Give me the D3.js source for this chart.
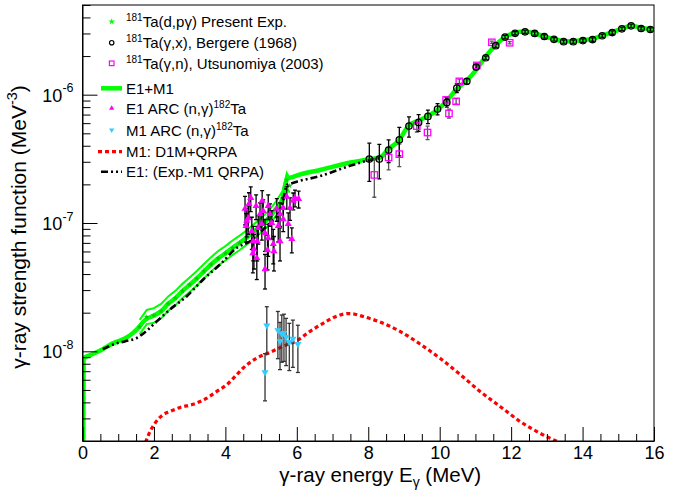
<!DOCTYPE html>
<html><head><meta charset="utf-8">
<script src="https://cdn.jsdelivr.net/npm/d3@7"></script>
<style>body{margin:0;background:#fff} svg{display:block} text{font-family:"Liberation Sans",Arial,Helvetica,sans-serif;fill:#000}</style>
</head><body><svg id="c" width="687" height="490"></svg>
<script>
// ---------- data ----------
const xTicks = [0,2,4,6,8,10,12,14,16];
const yTicks = [1e-8,1e-7,1e-6];
const yTickExp = ["-8","-7","-6"];

// E1+M1 total (thick green)
const e1m1E = [0.02,0.03,0.07,0.2,0.57,0.85,1.2,1.4,1.55,1.75,2.0,2.2,2.4,2.6,2.8,3.0,3.2,3.4,3.6,3.8,4.0,4.2,4.4,4.6,4.8,5.0,5.2,5.4,5.6,5.73,5.9,6.1,6.65,7.5,8.05,8.33,8.57,8.85,9.13,9.41,9.69,9.97,10.2,10.48,10.76,11.04,11.27,11.55,11.83,12.11,12.38,12.66,12.93,13.19,13.47,13.73,14.01,14.27,14.55,14.83,15.1,15.36,15.64,15.9,16.0];
const e1m1F = [1.9e-9,8.66e-9,8.98e-9,9.3e-9,1.04e-8,1.155e-8,1.265e-8,1.38e-8,1.51e-8,1.75e-8,1.9e-8,2.05e-8,2.35e-8,2.6e-8,2.95e-8,3.3e-8,3.7e-8,4.2e-8,4.75e-8,5.3e-8,5.8e-8,6.4e-8,7.0e-8,7.7e-8,8.6e-8,9.6e-8,1.08e-7,1.27e-7,1.55e-7,2.21e-7,2.29e-7,2.39e-7,2.59e-7,2.96e-7,3.15e-7,3.24e-7,3.77e-7,4.38e-7,5.73e-7,6.27e-7,6.86e-7,7.73e-7,8.98e-7,1.11e-6,1.29e-6,1.59e-6,1.95e-6,2.41e-6,2.81e-6,3.04e-6,3.11e-6,3.01e-6,2.85e-6,2.72e-6,2.61e-6,2.61e-6,2.67e-6,2.72e-6,2.89e-6,3.07e-6,3.26e-6,3.44e-6,3.32e-6,3.24e-6,3.2e-6];

// Present experiment (d,p gamma): centre, upper and lower band
const expE  = [1.6,1.8,2.0,2.2,2.4,2.6,2.8,3.0,3.2,3.4,3.6,3.8,4.0,4.2,4.4,4.6,4.8,5.0,5.2,5.4,5.6,5.72,5.8];
const expF  = [1.55e-8,1.85e-8,1.9e-8,2.05e-8,2.35e-8,2.6e-8,2.95e-8,3.3e-8,3.7e-8,4.2e-8,4.75e-8,5.3e-8,5.8e-8,6.4e-8,7.0e-8,7.7e-8,8.6e-8,9.6e-8,1.08e-7,1.27e-7,1.55e-7,2.15e-7,1.95e-7];
const expHi = [1.76e-8,2.1e-8,2.17e-8,2.34e-8,2.68e-8,2.96e-8,3.36e-8,3.76e-8,4.22e-8,4.79e-8,5.42e-8,6.05e-8,6.6e-8,7.3e-8,7.98e-8,8.78e-8,9.8e-8,1.1e-7,1.23e-7,1.45e-7,1.77e-7,2.45e-7,2.22e-7];
const expLo = [1.36e-8,1.63e-8,1.67e-8,1.8e-8,2.07e-8,2.29e-8,2.6e-8,2.9e-8,3.26e-8,3.7e-8,4.18e-8,4.66e-8,5.1e-8,5.63e-8,6.16e-8,6.78e-8,7.57e-8,8.45e-8,9.5e-8,1.12e-7,1.36e-7,1.89e-7,1.72e-7];

// E1: Exp - M1 QRPA (black dash-dot)
const e1E = [0.57,0.86,1.2,1.52,1.8,2.08,2.45,2.92,3.38,3.85,4.32,4.69,5.0,5.25,5.5,5.6,5.72,5.86,6.0,6.65,7.49,8.05,8.33];
const e1F = [1.04e-8,1.13e-8,1.2e-8,1.27e-8,1.45e-8,1.71e-8,2.12e-8,2.69e-8,3.63e-8,4.75e-8,6.41e-8,7.2e-8,8.6e-8,1.0e-7,1.2e-7,1.42e-7,1.98e-7,2.04e-7,2.1e-7,2.32e-7,2.79e-7,3.1e-7,3.2e-7];

// M1: D1M+QRPA (red dotted)
const m1E = [1.765,1.89,2.03,2.22,2.45,2.73,3.10,3.48,3.76,4.04,4.32,4.50,4.88,5.25,5.62,6.00,6.37,6.75,7.12,7.45,7.91,8.33,8.89,9.45,10.01,10.57,11.13,11.69,12.25,12.82,13.35];
const m1F = [1.95e-9,2.37e-9,2.75e-9,3.15e-9,3.4e-9,3.65e-9,3.87e-9,4.31e-9,4.87e-9,5.5e-9,6.58e-9,7.41e-9,8.87e-9,9.82e-9,1.094e-8,1.21e-8,1.43e-8,1.66e-8,1.88e-8,1.97e-8,1.85e-8,1.69e-8,1.43e-8,1.14e-8,8.82e-9,6.61e-9,4.87e-9,3.72e-9,2.84e-9,2.29e-9,1.95e-9];

// E1 ARC (n,gamma) 182Ta
const arcE1E = [4.58,4.64,4.71,4.74,4.78,4.80,4.77,4.88,5.11,4.92,4.97,5.06,5.02,5.11,5.20,5.18,5.25,5.30,5.34,5.36,5.53,5.48,5.53,5.44,5.62,5.76,5.81,5.86,5.90,6.05,5.95,5.72,4.55,4.60,5.03,5.20,4.86,5.62,4.89,4.66];
const arcE1F = [9.48e-8,1.09e-7,1.57e-7,8.66e-8,7.23e-8,6.26e-8,5.83e-8,5.33e-8,4.37e-8,9.14e-8,1.175e-7,1.24e-7,9.82e-8,8.35e-8,7.63e-8,6.15e-8,1.175e-7,1.0e-7,6.86e-8,6.04e-8,7.23e-8,9.48e-8,1.175e-7,1.29e-7,1.31e-7,9.82e-8,1.31e-7,7.5e-8,1.49e-7,1.54e-7,1.57e-7,1.60e-7,1.29e-7,1.04e-7,1.49e-7,1.36e-7,1.36e-7,1.07e-7,7.23e-8,1.41e-7];
const arcE1Err = [0.25,0.25,0.22,0.28,0.3,0.3,0.3,0.32,0.3,0.25,0.22,0.22,0.25,0.28,0.28,0.3,0.2,0.25,0.3,0.3,0.3,0.25,0.22,0.2,0.2,0.22,0.2,0.22,0.15,0.15,0.15,0.2,0.25,0.25,0.2,0.22,0.22,0.2,0.3,0.22];

// M1 ARC (n,gamma) 182Ta
const arcM1E = [5.16,5.11,5.47,5.53,5.58,5.64,5.70,5.79,5.89,6.03];
const arcM1F = [1.59e-8,6.85e-9,1.46e-8,1.2e-8,1.37e-8,1.39e-8,1.29e-8,1.18e-8,1.25e-8,1.14e-8];
const arcM1Err = [0.4,0.4,0.4,0.4,0.4,0.4,0.4,0.4,0.4,0.4];

// 181Ta(gamma,x) Bergere (1968)
const bergE = [8.03,8.31,8.57,8.87,9.14,9.41,9.67,9.94,10.20,10.48,10.76,11.02,11.29,11.57,11.83,12.11,12.39,12.66,12.93,13.20,13.47,13.74,14.01,14.28,14.55,14.83,15.10,15.36,15.64,15.90];
const bergF = [3.15e-7,3.15e-7,3.70e-7,4.45e-7,5.69e-7,6.08e-7,6.77e-7,7.73e-7,8.71e-7,1.127e-6,1.27e-6,1.64e-6,1.94e-6,2.41e-6,2.81e-6,3.01e-6,3.09e-6,3.0e-6,2.84e-6,2.70e-6,2.59e-6,2.59e-6,2.64e-6,2.69e-6,2.88e-6,3.05e-6,3.26e-6,3.44e-6,3.28e-6,3.22e-6];
const bergErr = [0.33,0.3,0.2,0.25,0.18,0.15,0.12,0.1,0.08,0.08,0.05,0.04,0.03,0.03,0.03,0.03,0.03,0.03,0.03,0.03,0.03,0.03,0.03,0.03,0.03,0.03,0.03,0.03,0.03,0.03];

// 181Ta(gamma,n) Utsunomiya (2003)
const utsE = [8.17,8.57,8.87,9.36,9.66,10.18,10.26,10.46,10.55,11.04,11.46,11.96];
const utsF = [2.37e-7,3.24e-7,3.44e-7,5.69e-7,5.07e-7,9.1e-7,7.14e-7,8.87e-7,1.27e-6,1.69e-6,2.56e-6,2.54e-6];
const utsErr = [0.33,0.2,0.2,0.1,0.12,0.05,0.08,0.05,0.04,0.03,0.02,0.02];

// ---------- drawing ----------
const svg = d3.select("#c");
const L = 82.5, R = 654, T = 5, B = 441;
const x = d3.scaleLinear().domain([0,16]).range([L,R]);
const y = d3.scaleLog().domain([2e-9,5e-6]).range([B,T]);

svg.append("rect").attr("width",687).attr("height",490).attr("fill","#fff");
svg.append("clipPath").attr("id","clip").append("rect")
  .attr("x",L).attr("y",T).attr("width",R-L).attr("height",B-T);

const zip = (a,b,c) => a.map((v,i)=>({e:v,f:b[i],err:c?c[i]:0}));
const line = d3.line().x(d=>x(d.e)).y(d=>y(d.f));
const lineS = d3.line().x(d=>x(d.e)).y(d=>y(d.f)).curve(d3.curveMonotoneX);
const plot = svg.append("g").attr("clip-path","url(#clip)");

// experimental band (thin green outlines)
[expHi, expLo].forEach(arr=>{
  plot.append("path").datum(zip(expE,arr)).attr("d",line)
    .attr("fill","none").attr("stroke","#00ff00").attr("stroke-width",2);
});
// total E1+M1
plot.append("path").datum(zip(e1m1E,e1m1F)).attr("d",lineS)
  .attr("fill","none").attr("stroke","#00ff00").attr("stroke-width",4.5).attr("stroke-linejoin","round");
// exp markers
plot.selectAll(".exp").data(zip(expE,expF)).join("path")
  .attr("transform",d=>`translate(${x(d.e)},${y(d.f)})`)
  .attr("d",d3.symbol(d3.symbolStar,10)).attr("fill","#00cc00");
// E1 dash-dot
plot.append("path").datum(zip(e1E,e1F)).attr("d",lineS)
  .attr("fill","none").attr("stroke","#000").attr("stroke-width",2.6)
  .attr("stroke-dasharray","7,3,2,3,2,3");
// M1 dotted red
plot.append("path").datum(zip(m1E,m1F)).attr("d",lineS)
  .attr("fill","none").attr("stroke","#ff0000").attr("stroke-width",3.2)
  .attr("stroke-dasharray","4,3");

function errBars(data, color, cap){
  const g = plot.append("g").attr("stroke",color).attr("stroke-width",1.3);
  data.forEach(d=>{
    const y1 = y(d.f*(1+d.err)), y2 = y(d.f*(1-d.err)), xx = x(d.e);
    g.append("line").attr("x1",xx).attr("x2",xx).attr("y1",y1).attr("y2",y2);
    g.append("line").attr("x1",xx-cap).attr("x2",xx+cap).attr("y1",y1).attr("y2",y1);
    g.append("line").attr("x1",xx-cap).attr("x2",xx+cap).attr("y1",y2).attr("y2",y2);
  });
}
const arcE1 = zip(arcE1E,arcE1F,arcE1Err);
const arcM1 = zip(arcM1E,arcM1F,arcM1Err);
const berg = zip(bergE,bergF,bergErr);
const uts = zip(utsE,utsF,utsErr);
errBars(arcM1,"#333",2);
errBars(arcE1,"#000",2);
errBars(uts,"#555",2);
errBars(berg,"#000",2);

plot.selectAll(".m1").data(arcM1).join("path")
  .attr("transform",d=>`translate(${x(d.e)},${y(d.f)}) rotate(180)`)
  .attr("d",d3.symbol(d3.symbolTriangle,22)).attr("fill","#33ccff");
plot.selectAll(".e1").data(arcE1).join("path")
  .attr("transform",d=>`translate(${x(d.e)},${y(d.f)})`)
  .attr("d",d3.symbol(d3.symbolTriangle,22)).attr("fill","#ff00ff");
plot.selectAll(".ut").data(uts).join("rect")
  .attr("x",d=>x(d.e)-3.2).attr("y",d=>y(d.f)-3.2).attr("width",6.4).attr("height",6.4)
  .attr("fill","none").attr("stroke","#ff00ff").attr("stroke-width",1.3);
plot.selectAll(".bg").data(berg).join("circle")
  .attr("cx",d=>x(d.e)).attr("cy",d=>y(d.f)).attr("r",3.2)
  .attr("fill","none").attr("stroke","#000").attr("stroke-width",1.3);

// ---------- axes ----------
const fs = 18;
const xAx = svg.append("g").attr("transform",`translate(0,${B})`)
  .call(d3.axisBottom(x).tickValues(xTicks).tickSizeInner(-14).tickSizeOuter(0).tickPadding(6).tickFormat(d3.format("d")));
xAx.selectAll("text").attr("font-size",fs).attr("font-family","Liberation Sans, Arial, sans-serif").attr("dy","0.68em");
const xMinor = d3.range(0,16.01,0.5).filter(v=>v%2!==0);
svg.append("g").attr("transform",`translate(0,${B})`)
  .call(d3.axisBottom(x).tickValues(xMinor).tickSizeInner(-7).tickSizeOuter(0).tickFormat(""))
  .select(".domain").remove();

const yAx = svg.append("g").attr("transform",`translate(${L},0)`)
  .call(d3.axisLeft(y).tickValues(yTicks).tickSizeInner(-15).tickSizeOuter(0).tickPadding(9).tickFormat(()=>""));
yAx.selectAll(".tick text").each(function(d,i){
  const t = d3.select(this).attr("font-size",fs).attr("dy","0.36em");
  t.append("tspan").text("10");
  t.append("tspan").attr("font-size",12.5).attr("dy","-0.75em").text(yTickExp[i]);
});
const yMinor = [];
[1e-9,1e-8,1e-7,1e-6].forEach(dec=>{ for(let k=2;k<=9;k++){ const v=k*dec; if(v>=2e-9&&v<=5e-6) yMinor.push(v);} });
svg.append("g").attr("transform",`translate(${L},0)`)
  .call(d3.axisLeft(y).tickValues(yMinor).tickSizeInner(-8).tickSizeOuter(0).tickFormat(""))
  .select(".domain").remove();
svg.selectAll(".domain").attr("stroke","#000");
svg.selectAll(".tick line").attr("stroke","#000");

// frame
svg.append("rect").attr("x",L).attr("y",T).attr("width",R-L).attr("height",B-T)
  .attr("fill","none").attr("stroke","#000").attr("stroke-width",1);

// titles
const xt = svg.append("text").attr("x",(L+R)/2+12).attr("y",482).attr("text-anchor","middle").attr("font-size",20.5);
xt.append("tspan").text("γ-ray energy E");
xt.append("tspan").attr("font-size",14).attr("dy",5).text("γ");
xt.append("tspan").attr("dy",-5).text(" (MeV)");

const yt = svg.append("text").attr("transform",`translate(26,${(T+B)/2+4}) rotate(-90)`).attr("text-anchor","middle").attr("font-size",21);
yt.append("tspan").text("γ-ray strength function (MeV");
yt.append("tspan").attr("font-size",14.5).attr("dy",-9).text("-3");
yt.append("tspan").attr("dy",9).text(")");

// ---------- legend ----------
const legRows = [21.7,42.7,63.3,88.3,108.3,130,151.7,171.7];
const legText = [
  [["s","181"],["n","Ta(d,pγ) Present Exp."]],
  [["s","181"],["n","Ta(γ,x), Bergere (1968)"]],
  [["s","181"],["n","Ta(γ,n), Utsunomiya (2003)"]],
  [["n","E1+M1"]],
  [["n","E1 ARC (n,γ)"],["s","182"],["n","Ta"]],
  [["n","M1 ARC (n,γ)"],["s","182"],["n","Ta"]],
  [["n","M1: D1M+QRPA"]],
  [["n","E1: (Exp.-M1 QRPA)"]]
];
const leg = svg.append("g");
legRows.forEach((ry,i)=>{
  const t = leg.append("text").attr("x",126).attr("y",ry+5.5).attr("font-size",15);
  let up = false;
  legText[i].forEach(([k,s])=>{
    const sp = t.append("tspan").text(s);
    if(k==="s"){ sp.attr("font-size",10).attr("dy",up?0:-6); up=true; }
    else { sp.attr("dy",up?6:0); up=false; }
  });
});
const mx = 111.7;
leg.append("path").attr("transform",`translate(${mx},${legRows[0]})`).attr("d",d3.symbol(d3.symbolStar,14)).attr("fill","#00ff00");
leg.append("circle").attr("cx",mx).attr("cy",legRows[1]).attr("r",2.2).attr("fill","none").attr("stroke","#000").attr("stroke-width",1.2);
leg.append("rect").attr("x",mx-2.3).attr("y",legRows[2]-2.3).attr("width",4.6).attr("height",4.6).attr("fill","none").attr("stroke","#ff00ff").attr("stroke-width",1.2);
leg.append("line").attr("x1",101).attr("x2",122).attr("y1",legRows[3]).attr("y2",legRows[3]).attr("stroke","#00ff00").attr("stroke-width",4.5);
leg.append("path").attr("transform",`translate(${mx},${legRows[4]})`).attr("d",d3.symbol(d3.symbolTriangle,12)).attr("fill","#ff00ff");
leg.append("path").attr("transform",`translate(${mx},${legRows[5]}) rotate(180)`).attr("d",d3.symbol(d3.symbolTriangle,12)).attr("fill","#33ccff");
leg.append("line").attr("x1",98).attr("x2",122).attr("y1",legRows[6]).attr("y2",legRows[6]).attr("stroke","#ff0000").attr("stroke-width",3.2).attr("stroke-dasharray","4,3");
leg.append("line").attr("x1",101).attr("x2",122).attr("y1",legRows[7]).attr("y2",legRows[7]).attr("stroke","#000").attr("stroke-width",2.6).attr("stroke-dasharray","7,3,2,3,2,3");
</script></body></html>
